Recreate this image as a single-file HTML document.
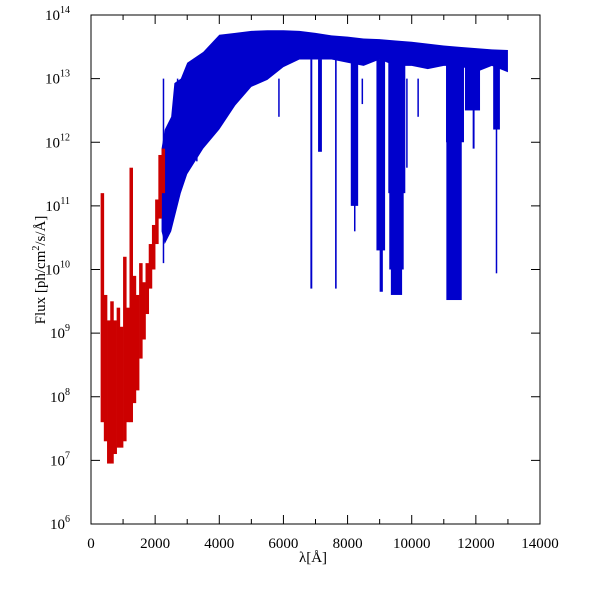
<!DOCTYPE html>
<html><head><meta charset="utf-8"><style>
html,body{margin:0;padding:0;background:#fff;}
svg{display:block;font-family:"Liberation Serif",serif;}
</style></head><body>
<svg id="chart" width="600" height="600">
<g id="marks"></g>
<g id="axes"></g>
<text x="313" y="562" font-size="15" text-anchor="middle">λ[Å]</text>
<text transform="translate(45,270) rotate(-90)" font-size="15" text-anchor="middle">Flux [ph/cm<tspan font-size="10" dy="-6">2</tspan><tspan dy="6">/s/Å]</tspan></text>
</svg>
<script>
// Red (UV) bins: wavelength, upper log flux, lower log flux
const redW  = [300,400,500,600,700,800,900,1000,1100,1200,1300,1400,1500,1600,1700,1800,1900,2000,2100,2200];
const redHi = [11.2,9.6,9.2,9.5,9.2,9.4,9.1,10.2,9.4,11.6,9.9,9.6,10.1,9.8,10.1,10.4,10.7,11.1,11.8,11.9];
const redLo = [7.6,7.3,6.95,6.95,7.1,7.2,7.2,7.3,7.6,7.6,7.9,8.1,8.6,8.9,9.3,9.7,10.0,10.4,10.8,11.2];
// Blue continuum envelope
const blueW  = [2200,2300,2500,2600,2800,3000,3500,4000,4500,5000,5500,6000,6500,7000,7500,8000,8500,9000,9500,10000,10500,11000,11500,12000,12500,13000];
const blueHi = [11.9,12.2,12.4,12.93,13.0,13.25,13.42,13.69,13.72,13.75,13.76,13.76,13.75,13.72,13.68,13.66,13.63,13.62,13.6,13.58,13.55,13.52,13.5,13.48,13.46,13.45];
const blueLo = [10.6,10.4,10.6,10.8,11.2,11.5,11.9,12.2,12.58,12.87,12.98,13.18,13.3,13.3,13.3,13.25,13.2,13.3,13.2,13.2,13.15,13.2,13.2,13.1,13.2,13.1];
// Absorption bands: start, end, minimum log flux
const bandStart = [6840,7080,7610,8100,8200,8900,9000,9270,9300,9350,11070,11080,11660,11900,12540,12620];
const bandEnd   = [6900,7200,7660,8330,8240,9170,9100,9800,9750,9700,11630,11560,12130,11960,12750,12660];
const bandMin   = [9.7,11.85,9.7,11.0,10.6,10.3,9.65,11.2,10.0,9.6,12.0,9.52,12.5,11.9,12.2,9.94];
// Narrow lines: wavelength, minimum log flux
const lineW   = [2260,2700,3300,5860,8460,9850,10200,12000];
const lineMin = [10.1,11.6,11.7,12.4,12.6,11.6,12.4,12.6];

const X0=91,X1=540,Y0=15,Y1=524;
const xs=w=>X0+(w/14000)*(X1-X0);
const ys=l=>Y0+(14-l)/8*(Y1-Y0);
const NS="http://www.w3.org/2000/svg";
const marks=document.getElementById('marks'), axes=document.getElementById('axes');
function mk(tag,attrs,parent){const e=document.createElementNS(NS,tag);for(const k in attrs)e.setAttribute(k,attrs[k]);parent.appendChild(e);return e;}

let pts=blueW.map((w,i)=>xs(w)+','+ys(blueHi[i]));
for(let i=blueW.length-1;i>=0;i--)pts.push(xs(blueW[i])+','+ys(blueLo[i]));
const poly=mk('polygon',{points:pts.join(' '),fill:'#0000cc'},marks);


bandStart.forEach((s,i)=>{
  const yTop=ys(13.3);
  const r=mk('rect',{x:xs(s),y:yTop,width:Math.max(1.5,xs(bandEnd[i])-xs(s)),height:ys(bandMin[i])-yTop,fill:'#0000cc'},marks);
  
  
});
lineW.forEach((w,i)=>{
  const l=mk('line',{x1:xs(w),x2:xs(w),y1:ys(13),y2:ys(lineMin[i]),stroke:'#0000cc','stroke-width':1.5},marks);
  
  
});
redW.forEach((w,i)=>{
  const r=mk('rect',{x:xs(w),y:ys(redHi[i]),width:xs(w+100)-xs(w)+0.3,height:ys(redLo[i])-ys(redHi[i]),fill:'#cc0000'},marks);
  
  
});

const fr=mk('rect',{x:X0,y:Y0,width:X1-X0,height:Y1-Y0,fill:'none',stroke:'#000','stroke-width':1},axes);


const xTicks=[0,2000,4000,6000,8000,10000,12000,14000];
for(let w=0;w<=14000;w+=1000){
  const major=w%2000===0, L=major?9:5, x=xs(w);
  mk('line',{x1:x,x2:x,y1:Y1,y2:Y1-L,stroke:'#000'},axes);
  mk('line',{x1:x,x2:x,y1:Y0,y2:Y0+L,stroke:'#000'},axes);
}
xTicks.forEach(w=>{
  const t=mk('text',{x:xs(w),y:Y1+24,'font-size':15,'text-anchor':'middle'},axes);
  t.textContent=w;
  
  
});
const yExp=[6,7,8,9,10,11,12,13,14];
yExp.forEach(e=>{
  const y=ys(e);
  mk('line',{x1:X0,x2:X0+9,y1:y,y2:y,stroke:'#000'},axes);
  mk('line',{x1:X1,x2:X1-9,y1:y,y2:y,stroke:'#000'},axes);
  const t=mk('text',{x:70,y:y+5,'font-size':15,'text-anchor':'end'},axes);
  t.textContent='10';
  const s=mk('tspan',{'font-size':10,dy:-7},t);
  s.textContent=e;
  
  
});
</script>
</body></html>
